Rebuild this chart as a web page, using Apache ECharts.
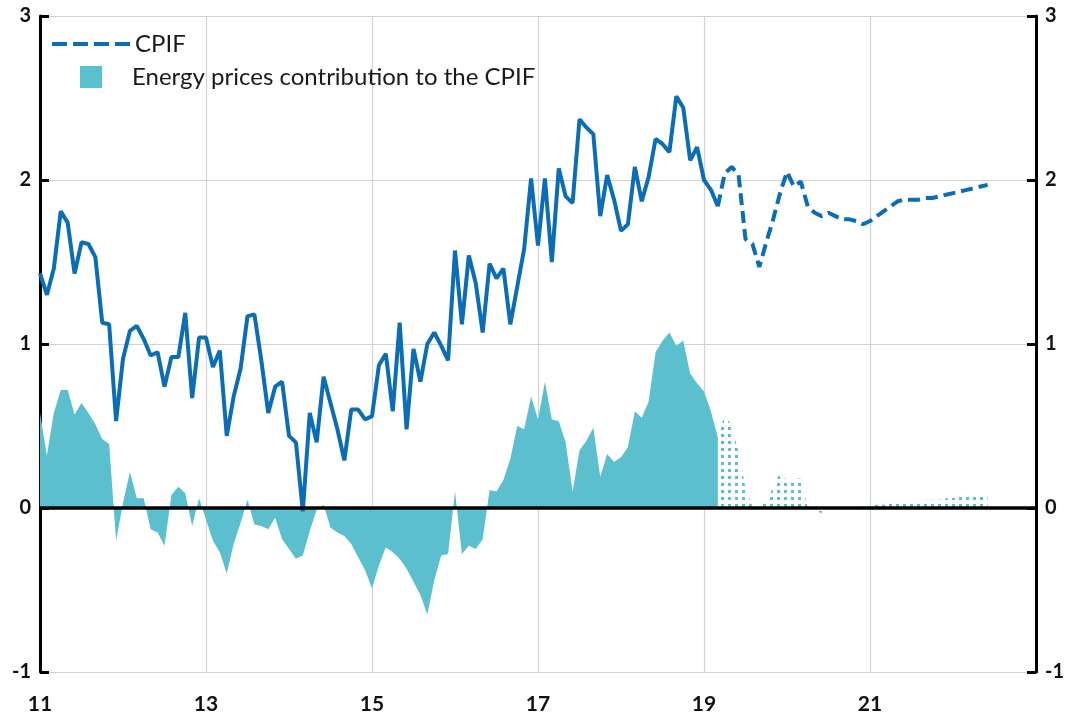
<!DOCTYPE html>
<html>
<head>
<meta charset="utf-8">
<script src="https://cdn.jsdelivr.net/npm/echarts@6/dist/echarts.min.js"></script>
<style>
  html, body { margin: 0; padding: 0; background: #fff; }
  #chart { width: 1073px; height: 720px; }
</style>
</head>
<body>
<div id="chart"></div>
<script>
// monthly values, first entry = Jan 2011
var startYear = 2011;
// CPIF outcome, Jan 2011 - Mar 2019
var cpifActual = [
  1.43, 1.30, 1.46, 1.81, 1.74, 1.43, 1.62, 1.61, 1.53, 1.13, 1.12, 0.53,
  0.91, 1.08, 1.11, 1.03, 0.93, 0.95, 0.74, 0.92, 0.92, 1.19, 0.67, 1.04,
  1.04, 0.86, 0.96, 0.44, 0.68, 0.85, 1.17, 1.18, 0.90, 0.58, 0.74, 0.77,
  0.44, 0.40, -0.02, 0.58, 0.40, 0.80, 0.64, 0.48, 0.29, 0.60, 0.60, 0.54,
  0.56, 0.87, 0.94, 0.59, 1.13, 0.48, 0.97, 0.77, 1.00, 1.07, 0.99, 0.90,
  1.57, 1.12, 1.54, 1.37, 1.07, 1.49, 1.40, 1.46, 1.12, 1.35, 1.58, 2.01,
  1.60, 2.01, 1.50, 2.07, 1.90, 1.86, 2.37, 2.32, 2.28, 1.78, 2.03, 1.88,
  1.69, 1.73, 2.08, 1.87, 2.02, 2.25, 2.22, 2.17, 2.51, 2.44, 2.12, 2.20,
  2.00, 1.94, 1.84
];
// CPIF forecast, Mar 2019 - Jun 2022
var cpifForecast = [
  1.84, 2.04, 2.08, 2.03, 1.64, 1.61, 1.47, 1.62, 1.76, 1.92, 2.05, 1.96,
  1.99, 1.84, 1.80, 1.78, 1.80, 1.78, 1.76, 1.76, 1.75, 1.73, 1.75, 1.78,
  1.81, 1.84, 1.87, 1.88, 1.88, 1.88, 1.89, 1.89, 1.90, 1.91, 1.92, 1.93,
  1.94, 1.95, 1.96, 1.97
];
// energy contribution, outcome Jan 2011 - Mar 2019
var energyActual = [
  0.58, 0.32, 0.58, 0.72, 0.72, 0.57, 0.64, 0.58, 0.51, 0.42, 0.39, -0.20,
  0.03, 0.22, 0.06, 0.06, -0.13, -0.15, -0.23, 0.08, 0.13, 0.09, -0.11, 0.06,
  -0.07, -0.20, -0.27, -0.40, -0.22, -0.09, 0.05, -0.10, -0.11, -0.13, -0.06, -0.19,
  -0.25, -0.31, -0.29, -0.14, -0.01, 0.02, -0.12, -0.15, -0.17, -0.22, -0.30, -0.38,
  -0.49, -0.35, -0.24, -0.27, -0.31, -0.37, -0.45, -0.53, -0.65, -0.44, -0.29, -0.28,
  0.10, -0.28, -0.23, -0.25, -0.19, 0.11, 0.10, 0.17, 0.30, 0.50, 0.48, 0.68,
  0.54, 0.77, 0.54, 0.53, 0.40, 0.10, 0.35, 0.41, 0.49, 0.19, 0.33, 0.28,
  0.31, 0.37, 0.59, 0.55, 0.65, 0.95, 1.02, 1.07, 0.99, 1.02, 0.82, 0.76,
  0.71, 0.59, 0.43
];
// energy contribution, forecast Mar 2019 - Jun 2022
var energyForecast = [
  0.43, 0.57, 0.50, 0.34, 0.12, 0.01, 0.00, 0.05, 0.12, 0.22, 0.16, 0.18,
  0.18, 0.00, -0.02, -0.03, 0.00, 0.00, 0.00, 0.00, 0.00, 0.01, 0.01, 0.02,
  0.02, 0.03, 0.03, 0.04, 0.04, 0.04, 0.05, 0.05, 0.05, 0.06, 0.06, 0.07,
  0.07, 0.08, 0.08, 0.08
];
var forecastStart = cpifActual.length - 1;   // month index of Mar 2019
var yTicks = [-1, 0, 1, 2, 3];

var BLUE = '#0b6db6';
var TEAL = '#5bbfce';
var FONT = 'Lato';

var toPairs = function (arr, offset) {
    return arr.map(function (v, i) {
        return [startYear + (offset + i) / 12, v];
    });
};

// dotted fill for the forecast area
var makeDots = function () {
    var c = document.createElement('canvas');
    c.width = 7;
    c.height = 7;
    var ctx = c.getContext('2d');
    ctx.fillStyle = TEAL;
    ctx.fillRect(0, 0, 3, 3);
    return c;
};

var yAxisBase = function (pos) {
    return {
        type: 'value',
        position: pos,
        min: yTicks[0],
        max: yTicks[yTicks.length - 1],
        interval: 1,
        axisLine: { show: true, lineStyle: { color: '#000', width: 3 } },
        axisTick: { show: true, inside: true, length: 9, lineStyle: { color: '#000', width: 3 } },
        axisLabel: {
            margin: 9,
            color: '#111',
            fontFamily: FONT,
            fontWeight: 'bold',
            fontSize: 20
        },
        splitLine: { show: pos === 'left', lineStyle: { color: '#d2d2d2', width: 1.2 } }
    };
};

var chart = echarts.init(document.getElementById('chart'));
var ENERGY = 'Energy prices contribution to the CPIF';

chart.setOption({
    animation: false,
    backgroundColor: '#fff',
    grid: { left: 40, right: 37, top: 16, bottom: 48 },
    legend: [
        {
            data: ['CPIF'],
            left: 45,
            top: 27,
            itemWidth: 78,
            itemHeight: 24,
            itemStyle: { opacity: 0 },
            lineStyle: { width: 4, type: [15, 6] },
            textStyle: { fontFamily: FONT, fontSize: 24, color: '#1a1a1a' }
        },
        {
            data: [{ name: ENERGY, icon: 'rect' }],
            left: 75,
            top: 60,
            itemWidth: 22,
            itemHeight: 22,
            itemStyle: { borderWidth: 0 },
            textStyle: { fontFamily: FONT, fontSize: 24, color: '#1a1a1a', padding: [0, 0, 0, 25] }
        }
    ],
    xAxis: {
        type: 'value',
        min: 2011,
        max: 2023,
        interval: 2,
        axisLine: { show: false },
        axisTick: { show: false },
        axisLabel: {
            margin: 22,
            showMaxLabel: false,
            color: '#111',
            fontFamily: FONT,
            fontWeight: 'bold',
            fontSize: 21,
            formatter: function (v) {
                return v >= 2023 ? '' : String(v).slice(2);
            }
        },
        splitLine: { show: true, lineStyle: { color: '#d2d2d2', width: 1.2 } }
    },
    yAxis: [yAxisBase('left'), yAxisBase('right')],
    series: [
        {
            name: ENERGY,
            type: 'line',
            data: toPairs(energyActual, 0),
            symbol: 'none',
            itemStyle: { color: TEAL },
            lineStyle: { width: 0 },
            areaStyle: { color: TEAL, opacity: 1 },
            z: 2,
            markLine: {
                silent: true,
                symbol: 'none',
                label: { show: false },
                lineStyle: { color: '#000', width: 3.5, type: 'solid' },
                data: [{ yAxis: 0 }]
            }
        },
        {
            name: ENERGY,
            type: 'line',
            data: toPairs(energyForecast, forecastStart),
            symbol: 'none',
            itemStyle: { color: TEAL },
            lineStyle: { width: 0 },
            areaStyle: { color: { image: makeDots(), repeat: 'repeat' }, opacity: 1 },
            z: 2
        },
        {
            name: 'CPIF',
            type: 'line',
            data: toPairs(cpifForecast, forecastStart),
            symbol: 'none',
            itemStyle: { color: BLUE },
            lineStyle: { color: BLUE, width: 4, type: [12, 6] },
            z: 4
        },
        {
            name: 'CPIF',
            type: 'line',
            data: toPairs(cpifActual, 0),
            symbol: 'none',
            itemStyle: { color: BLUE },
            lineStyle: { color: BLUE, width: 4 },
            z: 4
        }
    ]
});
</script>
</body>
</html>
